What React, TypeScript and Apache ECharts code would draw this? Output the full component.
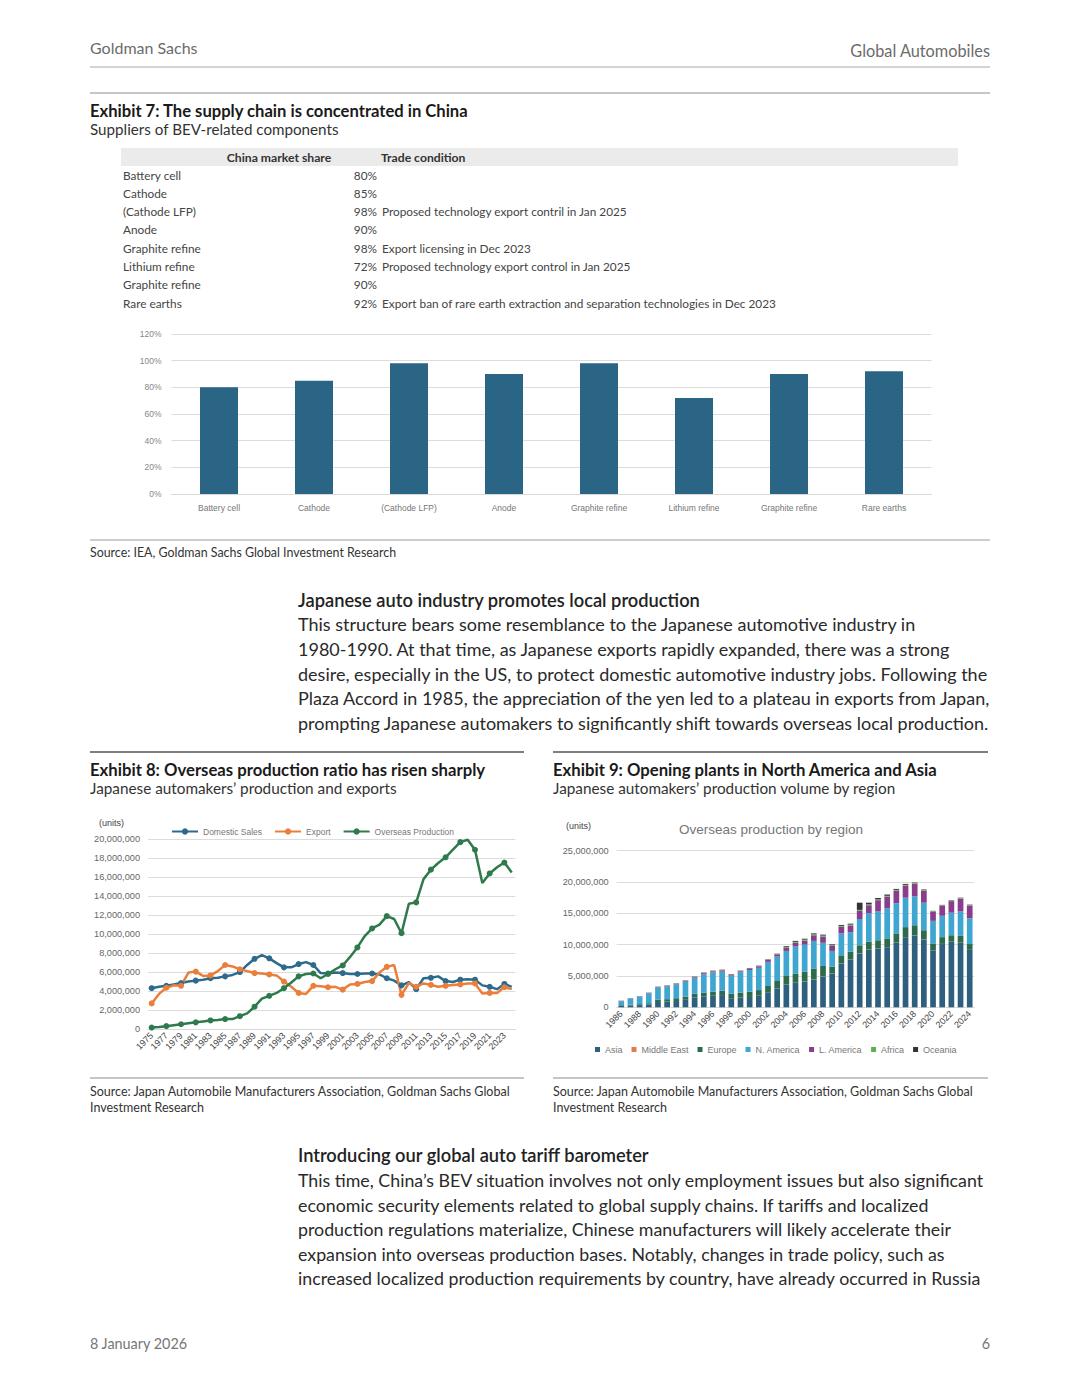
import React, { useEffect, useRef } from "react";
import * as echarts from "echarts";

// ---------- Exhibit 7 data ----------
const components = ["Battery cell", "Cathode", "(Cathode LFP)", "Anode", "Graphite refine", "Lithium refine", "Graphite refine", "Rare earths"];
const chinaShare = [80, 85, 98, 90, 98, 72, 90, 92];
const tradeCondition = [
  "",
  "",
  "Proposed technology export contril in Jan 2025",
  "",
  "Export licensing in Dec 2023",
  "Proposed technology export control in Jan 2025",
  "",
  "Export ban of rare earth extraction and separation technologies in Dec 2023",
];

// ---------- Exhibit 8 data (million units) ----------
const years8 = [
  "1975", "1976", "1977", "1978", "1979", "1980", "1981", "1982", "1983", "1984",
  "1985", "1986", "1987", "1988", "1989", "1990", "1991", "1992", "1993", "1994",
  "1995", "1996", "1997", "1998", "1999", "2000", "2001", "2002", "2003", "2004",
  "2005", "2006", "2007", "2008", "2009", "2010", "2011", "2012", "2013", "2014",
  "2015", "2016", "2017", "2018", "2019", "2020", "2021", "2022", "2023", "2024",
];
const domesticSales = [
  4.3, 4.45, 4.55, 4.7, 4.85, 5.0, 5.1, 5.2, 5.35, 5.4,
  5.55, 5.7, 6.0, 6.75, 7.4, 7.8, 7.45, 6.95, 6.5, 6.5,
  6.85, 7.05, 6.75, 5.9, 5.85, 5.95, 5.9, 5.8, 5.8, 5.85,
  5.85, 5.75, 5.35, 5.1, 4.6, 4.95, 4.2, 5.35, 5.4, 5.55,
  5.05, 4.95, 5.2, 5.25, 5.2, 4.6, 4.45, 4.2, 4.75, 4.45,
];
const exportUnits = [
  2.7, 3.7, 4.35, 4.6, 4.55, 5.95, 6.05, 5.6, 5.65, 6.1,
  6.75, 6.6, 6.3, 6.1, 5.9, 5.85, 5.75, 5.65, 5.0, 4.45,
  3.8, 3.7, 4.55, 4.5, 4.4, 4.45, 4.15, 4.7, 4.75, 4.95,
  5.05, 5.95, 6.55, 6.75, 3.6, 4.85, 4.45, 4.8, 4.65, 4.45,
  4.55, 4.65, 4.7, 4.8, 4.8, 3.75, 3.8, 3.8, 4.4, 4.2,
];
const overseasProduction = [
  0.15, 0.2, 0.3, 0.4, 0.5, 0.6, 0.7, 0.8, 0.9, 0.95,
  1.05, 1.05, 1.35, 1.65, 2.35, 3.2, 3.5, 3.8, 4.3, 4.9,
  5.55, 5.8, 5.85, 5.35, 5.8, 6.3, 6.7, 7.6, 8.6, 9.8,
  10.6, 11.0, 11.9, 11.6, 10.1, 13.2, 13.35, 15.8, 16.8, 17.5,
  18.1, 18.9, 19.7, 19.95, 18.9, 15.4, 16.4, 17.05, 17.55, 16.5,
];

// ---------- Exhibit 9 data (million units) ----------
const years9 = [
  "1986", "1987", "1988", "1989", "1990", "1991", "1992", "1993", "1994", "1995",
  "1996", "1997", "1998", "1999", "2000", "2001", "2002", "2003", "2004", "2005",
  "2006", "2007", "2008", "2009", "2010", "2011", "2012", "2013", "2014", "2015",
  "2016", "2017", "2018", "2019", "2020", "2021", "2022", "2023", "2024",
];
const asia = [
  0.25, 0.3, 0.35, 0.45, 0.85, 0.9, 1.0, 1.2, 1.55, 1.7,
  1.85, 1.95, 1.45, 1.55, 1.65, 1.85, 2.4, 3.0, 3.6, 3.9,
  4.1, 4.4, 4.9, 5.4, 7.0, 7.6, 8.6, 9.2, 9.4, 9.6,
  10.3, 11.2, 11.45, 10.8, 9.1, 10.1, 10.45, 10.3, 9.15,
];
const middleEast = [
  0, 0, 0, 0, 0, 0, 0, 0, 0, 0,
  0, 0, 0, 0, 0, 0, 0, 0, 0.02, 0.02,
  0.02, 0.03, 0.03, 0.02, 0.02, 0.02, 0.02, 0.02, 0.02, 0.02,
  0.02, 0.02, 0.02, 0.02, 0.02, 0.02, 0.02, 0.02, 0.02,
];
const europe = [
  0.1, 0.12, 0.15, 0.2, 0.35, 0.4, 0.45, 0.5, 0.6, 0.65,
  0.65, 0.7, 0.75, 0.8, 0.85, 0.9, 1.0, 1.2, 1.38, 1.48,
  1.58, 1.77, 1.67, 1.08, 1.28, 1.28, 1.28, 1.28, 1.28, 1.38,
  1.48, 1.58, 1.63, 1.48, 1.08, 1.08, 1.03, 1.08, 0.93,
];
const nAmerica = [
  0.6, 0.9, 1.13, 1.55, 1.95, 2.03, 2.2, 2.4, 2.5, 2.9,
  3.05, 3.05, 2.85, 3.25, 3.45, 3.55, 3.85, 3.9, 4.0, 4.3,
  4.3, 4.4, 3.7, 2.5, 3.5, 3.1, 4.2, 4.5, 4.6, 4.8,
  4.8, 4.7, 4.6, 4.4, 3.6, 3.4, 3.6, 3.9, 4.1,
];
const lAmerica = [
  0.05, 0.05, 0.06, 0.07, 0.08, 0.08, 0.09, 0.1, 0.15, 0.2,
  0.2, 0.2, 0.15, 0.15, 0.23, 0.25, 0.3, 0.35, 0.5, 0.6,
  0.65, 0.9, 1.0, 0.8, 1.05, 1.05, 1.3, 1.3, 1.8, 1.85,
  2.0, 1.9, 2.05, 1.95, 1.45, 1.6, 1.85, 2.05, 2.05,
];
const africa = [
  0.03, 0.03, 0.03, 0.03, 0.03, 0.04, 0.04, 0.04, 0.04, 0.04,
  0.04, 0.04, 0.04, 0.04, 0.04, 0.04, 0.05, 0.05, 0.12, 0.15,
  0.15, 0.15, 0.15, 0.12, 0.15, 0.15, 0.15, 0.15, 0.15, 0.15,
  0.15, 0.15, 0.15, 0.15, 0.1, 0.1, 0.1, 0.1, 0.1,
];
const oceania = [
  0.03, 0.04, 0.04, 0.04, 0.04, 0.05, 0.05, 0.06, 0.06, 0.06,
  0.06, 0.06, 0.06, 0.06, 0.06, 0.06, 0.06, 0.06, 0.13, 0.15,
  0.15, 0.15, 0.15, 0.13, 0.15, 0.15, 1.15, 0.25, 0.2, 0.2,
  0.15, 0.15, 0.05, 0.05, 0.05, 0.05, 0.05, 0.05, 0.05,
];
const regionNames = ["Asia", "Middle East", "Europe", "N. America", "L. America", "Africa", "Oceania"];
const regionData = [asia, middleEast, europe, nAmerica, lAmerica, africa, oceania];
const regionColors = ["#2f5f7e", "#e27d50", "#2e6b4c", "#3fa6d1", "#8b3d8d", "#63ad4f", "#333333"];

// ---------- Text ----------
const para1 = [
  "This structure bears some resemblance to the Japanese automotive industry in",
  "1980-1990. At that time, as Japanese exports rapidly expanded, there was a strong",
  "desire, especially in the US, to protect domestic automotive industry jobs. Following the",
  "Plaza Accord in 1985, the appreciation of the yen led to a plateau in exports from Japan,",
  "prompting Japanese automakers to significantly shift towards overseas local production.",
];
const para2 = [
  "This time, China\u2019s BEV situation involves not only employment issues but also significant",
  "economic security elements related to global supply chains. If tariffs and localized",
  "production regulations materialize, Chinese manufacturers will likely accelerate their",
  "expansion into overseas production bases. Notably, changes in trade policy, such as",
  "increased localized production requirements by country, have already occurred in Russia",
];

const SANS = "Lato, 'Noto Sans', sans-serif";
const CHART = "'Liberation Sans', Arial, sans-serif";

function txt(text: string, x: number, y: number, size: number, fill: string, opts: any = {}) {
  return {
    type: "text",
    x,
    y,
    silent: true,
    style: {
      text,
      fill,
      fontSize: size,
      fontFamily: opts.family || SANS,
      fontWeight: opts.weight || "normal",
      align: opts.align || "left",
      verticalAlign: "middle",
    },
  };
}
function hline(x1: number, x2: number, y: number, stroke: string, w = 1) {
  return { type: "line", silent: true, shape: { x1, y1: y, x2, y2: y }, style: { stroke, lineWidth: w } };
}

const millions = (v: number) => (v === 0 ? "0" : Math.round(v * 1e6).toLocaleString("en-US"));

function buildOption() {
  const g: any[] = [];
  // header
  g.push(txt("Goldman Sachs", 90, 47, 16, "#6b6b6b"));
  g.push(txt("Global Automobiles", 990, 50, 16.3, "#6b6b6b", { align: "right" }));
  g.push(hline(90, 990, 67, "#a8a8a8", 1));
  g.push(hline(90, 990, 93, "#8c8c8c", 1));
  // exhibit 7
  g.push(txt("Exhibit 7: The supply chain is concentrated in China", 90, 111, 16.6, "#1a1a1a", { weight: "bold" }));
  g.push(txt("Suppliers of BEV-related components", 90, 129, 15.2, "#333"));
  g.push({ type: "rect", silent: true, shape: { x: 121, y: 148, width: 837, height: 18 }, style: { fill: "#ebebeb" } });
  g.push(txt("China market share", 279, 157, 12.2, "#333", { weight: "bold", align: "center" }));
  g.push(txt("Trade condition", 381, 157, 12.2, "#333", { weight: "bold" }));
  components.forEach((c, i) => {
    const y = 175 + i * 18.3;
    g.push(txt(c, 123, y, 11.8, "#444"));
    g.push(txt(chinaShare[i] + "%", 377, y, 11.8, "#444", { align: "right" }));
    if (tradeCondition[i]) g.push(txt(tradeCondition[i], 382, y, 11.8, "#444"));
  });
  g.push(hline(90, 990, 540, "#9a9a9a", 1));
  g.push(txt("Source: IEA, Goldman Sachs Global Investment Research", 90, 552, 12.4, "#333"));
  // paragraph 1
  g.push(txt("Japanese auto industry promotes local production", 298, 600, 18.3, "#222", { weight: 600 }));
  para1.forEach((l, i) => g.push(txt(l, 298, 624 + i * 24.8, 18, "#2a2a2a")));
  // exhibits 8 & 9 headers
  g.push(hline(90, 524, 752, "#555", 1.5));
  g.push(hline(553, 988, 752, "#555", 1.5));
  g.push(txt("Exhibit 8: Overseas production ratio has risen sharply", 90, 770, 16.7, "#1a1a1a", { weight: "bold" }));
  g.push(txt("Japanese automakers\u2019 production and exports", 90, 788, 15.3, "#333"));
  g.push(txt("Exhibit 9: Opening plants in North America and Asia", 553, 770, 16.7, "#1a1a1a", { weight: "bold" }));
  g.push(txt("Japanese automakers\u2019 production volume by region", 553, 788, 15.3, "#333"));
  g.push(txt("(units)", 99, 823, 9, "#444", { family: CHART }));
  g.push(txt("(units)", 566, 826, 9, "#444", { family: CHART }));
  g.push(txt("Overseas production by region", 771, 829, 13.5, "#767676", { family: CHART, align: "center" }));
  g.push(hline(90, 524, 1078, "#8c8c8c", 1));
  g.push(hline(553, 988, 1078, "#8c8c8c", 1));
  g.push(txt("Source: Japan Automobile Manufacturers Association, Goldman Sachs Global", 90, 1091, 12.5, "#333"));
  g.push(txt("Investment Research", 90, 1107, 12.5, "#333"));
  g.push(txt("Source: Japan Automobile Manufacturers Association, Goldman Sachs Global", 553, 1091, 12.5, "#333"));
  g.push(txt("Investment Research", 553, 1107, 12.5, "#333"));
  // paragraph 2
  g.push(txt("Introducing our global auto tariff barometer", 298, 1155, 18.3, "#222", { weight: 600 }));
  para2.forEach((l, i) => g.push(txt(l, 298, 1180 + i * 24.6, 17.8, "#2a2a2a")));
  // footer
  g.push(txt("8 January 2026", 90, 1343, 14.4, "#777"));
  g.push(txt("6", 990, 1343, 14.4, "#777", { align: "right" }));

  const gridLine = { show: true, lineStyle: { color: "#dcdcdc", width: 1 } };
  const axisFont = { fontFamily: CHART, fontSize: 8.5, color: "#666" };

  return {
    animation: false,
    backgroundColor: "#ffffff",
    graphic: g,
    grid: [
      { left: 171.5, top: 334, width: 760, height: 160 },
      { left: 148, top: 839.3, width: 367.4, height: 189.7 },
      { left: 616.7, top: 850.7, width: 357.6, height: 156.6 },
    ],
    legend: [
      {
        data: ["Domestic Sales", "Export", "Overseas Production"],
        left: 166,
        top: 822,
        itemWidth: 26,
        itemHeight: 8,
        itemGap: 12,
        textStyle: { fontFamily: CHART, fontSize: 8.5, color: "#777" },
      },
      {
        data: regionNames,
        left: 590,
        top: 1040,
        icon: "rect",
        itemWidth: 5,
        itemHeight: 5,
        itemGap: 9,
        textStyle: { fontFamily: CHART, fontSize: 9, color: "#777" },
      },
    ],
    xAxis: [
      {
        gridIndex: 0,
        type: "category",
        data: components,
        axisTick: { show: false },
        axisLine: { lineStyle: { color: "#d9d9d9" } },
        axisLabel: { ...axisFont, color: "#777", margin: 9, interval: 0 },
      },
      {
        gridIndex: 1,
        type: "category",
        data: years8,
        axisTick: { show: false },
        axisLine: { lineStyle: { color: "#d9d9d9" } },
        axisLabel: { ...axisFont, fontSize: 9, color: "#444", rotate: 45, interval: 1, margin: 5 },
      },
      {
        gridIndex: 2,
        type: "category",
        data: years9,
        axisTick: { show: false },
        axisLine: { lineStyle: { color: "#d9d9d9" } },
        axisLabel: { ...axisFont, fontSize: 9, color: "#444", rotate: 45, interval: 1, margin: 5 },
      },
    ],
    yAxis: [
      {
        gridIndex: 0,
        type: "value",
        min: 0,
        max: 120,
        interval: 20,
        splitLine: gridLine,
        axisLabel: { ...axisFont, color: "#888", margin: 10, formatter: "{value}%" },
      },
      {
        gridIndex: 1,
        type: "value",
        min: 0,
        max: 20,
        interval: 2,
        splitLine: gridLine,
        axisLabel: { ...axisFont, fontSize: 9.2, margin: 8, formatter: millions },
      },
      {
        gridIndex: 2,
        type: "value",
        min: 0,
        max: 25,
        interval: 5,
        splitLine: gridLine,
        axisLabel: { ...axisFont, fontSize: 9.2, margin: 8, formatter: millions },
      },
    ],
    series: [
      {
        name: "China market share",
        type: "bar",
        xAxisIndex: 0,
        yAxisIndex: 0,
        data: chinaShare,
        barWidth: 38,
        itemStyle: { color: "#2b6586" },
      },
      {
        name: "Domestic Sales",
        type: "line",
        xAxisIndex: 1,
        yAxisIndex: 1,
        data: domesticSales,
        symbol: "circle",
        symbolSize: 6,
        color: "#2d6b8e",
        lineStyle: { width: 2.5 },
      },
      {
        name: "Export",
        type: "line",
        xAxisIndex: 1,
        yAxisIndex: 1,
        data: exportUnits,
        symbol: "circle",
        symbolSize: 6,
        color: "#ea7e3b",
        lineStyle: { width: 2.5 },
      },
      {
        name: "Overseas Production",
        type: "line",
        xAxisIndex: 1,
        yAxisIndex: 1,
        data: overseasProduction,
        symbol: "circle",
        symbolSize: 6,
        color: "#2e7a4c",
        lineStyle: { width: 2.5 },
      },
      ...regionNames.map((n, i) => ({
        name: n,
        type: "bar",
        stack: "region",
        xAxisIndex: 2,
        yAxisIndex: 2,
        data: regionData[i],
        barWidth: "62%",
        color: regionColors[i],
      })),
    ],
  };
}

export default function App() {
  const ref = useRef<HTMLDivElement>(null);
  useEffect(() => {
    document.body.style.margin = "0";
    const chart = echarts.init(ref.current as HTMLDivElement, null, { renderer: "svg" });
    chart.setOption(buildOption() as any);
    return () => chart.dispose();
  }, []);
  return <div ref={ref} style={{ width: 1080, height: 1397, background: "#fff" }} />;
}
